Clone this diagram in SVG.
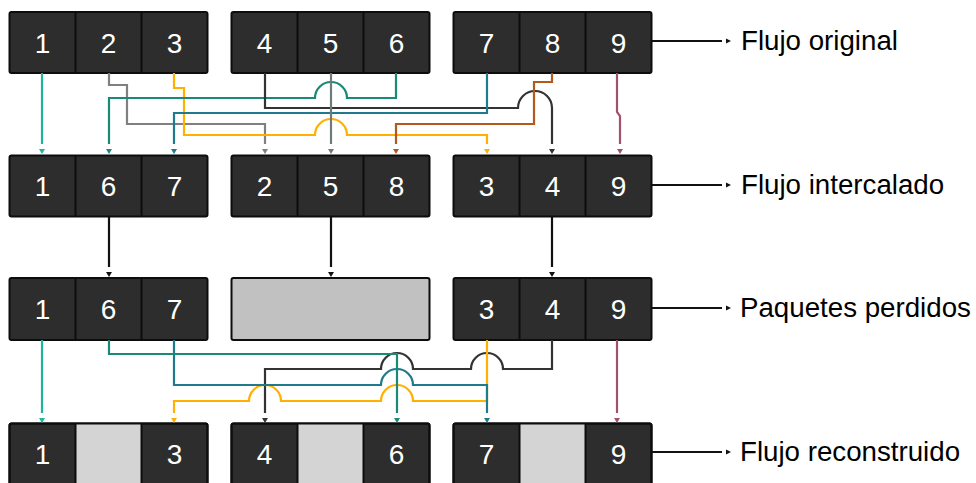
<svg xmlns="http://www.w3.org/2000/svg" width="976" height="483" viewBox="0 0 976 483">
  <style>
    .box{fill:#2d2d2d;stroke:#0d0d0d;stroke-width:2}
    .edge{fill:none;stroke:#0d0d0d;stroke-width:2}
    .div{stroke:#0d0d0d;stroke-width:2}
    .lost{fill:#c1c1c1;stroke:#0d0d0d;stroke-width:2}
    .gap{fill:#d4d4d4}
    .num{font-family:"Liberation Sans",Arial,sans-serif;font-size:28px;fill:#fff;text-anchor:middle}
    .lbl{font-family:"Liberation Sans",Arial,sans-serif;font-size:27.7px;fill:#000}
    .w{fill:none;stroke-width:2.2}
  </style>
  <defs>
    <marker id="a-k" markerUnits="userSpaceOnUse" markerWidth="12" markerHeight="12" orient="auto" overflow="visible"><path d="M5,-3 L10,0 L5,3Z" fill="#111"/></marker>
    <marker id="a-s" markerUnits="userSpaceOnUse" markerWidth="12" markerHeight="12" orient="auto" overflow="visible"><path d="M4,-2.5 L9,0 L4,2.5Z" fill="#111"/></marker>
    <marker id="a-c1" markerUnits="userSpaceOnUse" markerWidth="12" markerHeight="12" orient="auto" overflow="visible"><path d="M5,-3 L10,0 L5,3Z" fill="#1eb59c"/></marker>
    <marker id="a-c2" markerUnits="userSpaceOnUse" markerWidth="12" markerHeight="12" orient="auto" overflow="visible"><path d="M5,-3 L10,0 L5,3Z" fill="#808080"/></marker>
    <marker id="a-c3" markerUnits="userSpaceOnUse" markerWidth="12" markerHeight="12" orient="auto" overflow="visible"><path d="M5,-3 L10,0 L5,3Z" fill="#ffb000"/></marker>
    <marker id="a-c4" markerUnits="userSpaceOnUse" markerWidth="12" markerHeight="12" orient="auto" overflow="visible"><path d="M5,-3 L10,0 L5,3Z" fill="#333"/></marker>
    <marker id="a-c5" markerUnits="userSpaceOnUse" markerWidth="12" markerHeight="12" orient="auto" overflow="visible"><path d="M5,-3 L10,0 L5,3Z" fill="#6f7b7b"/></marker>
    <marker id="a-c6" markerUnits="userSpaceOnUse" markerWidth="12" markerHeight="12" orient="auto" overflow="visible"><path d="M5,-3 L10,0 L5,3Z" fill="#198a77"/></marker>
    <marker id="a-c7" markerUnits="userSpaceOnUse" markerWidth="12" markerHeight="12" orient="auto" overflow="visible"><path d="M5,-3 L10,0 L5,3Z" fill="#1f7a8c"/></marker>
    <marker id="a-c8" markerUnits="userSpaceOnUse" markerWidth="12" markerHeight="12" orient="auto" overflow="visible"><path d="M5,-3 L10,0 L5,3Z" fill="#b4581e"/></marker>
    <marker id="a-c9" markerUnits="userSpaceOnUse" markerWidth="12" markerHeight="12" orient="auto" overflow="visible"><path d="M5,-3 L10,0 L5,3Z" fill="#a1516f"/></marker>
  </defs>

  <!-- Row 1: original stream -->
  <g id="orig-a">
    <rect class="box" x="9.5" y="12" width="198" height="61" rx="2"/>
    <path class="div" d="M75.5,12V73M141.5,12V73"/>
    <text class="num" x="42.5" y="52.5">1</text><text class="num" x="108.5" y="52.5">2</text><text class="num" x="174.5" y="52.5">3</text>
  </g>
  <g id="orig-b">
    <rect class="box" x="231.5" y="12" width="198" height="61" rx="2"/>
    <path class="div" d="M297.5,12V73M363.5,12V73"/>
    <text class="num" x="264.5" y="52.5">4</text><text class="num" x="330.5" y="52.5">5</text><text class="num" x="396.5" y="52.5">6</text>
  </g>
  <g id="orig-c">
    <rect class="box" x="453.5" y="12" width="198" height="61" rx="2"/>
    <path class="div" d="M519.5,12V73M585.5,12V73"/>
    <text class="num" x="486.5" y="52.5">7</text><text class="num" x="552.5" y="52.5">8</text><text class="num" x="618.5" y="52.5">9</text>
  </g>

  <!-- Row 2: interleaved stream -->
  <g id="inter-a">
    <rect class="box" x="9.5" y="155.5" width="198" height="61" rx="2"/>
    <path class="div" d="M75.5,155.5V216.5M141.5,155.5V216.5"/>
    <text class="num" x="42.5" y="196">1</text><text class="num" x="108.5" y="196">6</text><text class="num" x="174.5" y="196">7</text>
  </g>
  <g id="inter-b">
    <rect class="box" x="231.5" y="155.5" width="198" height="61" rx="2"/>
    <path class="div" d="M297.5,155.5V216.5M363.5,155.5V216.5"/>
    <text class="num" x="264.5" y="196">2</text><text class="num" x="330.5" y="196">5</text><text class="num" x="396.5" y="196">8</text>
  </g>
  <g id="inter-c">
    <rect class="box" x="453.5" y="155.5" width="198" height="61" rx="2"/>
    <path class="div" d="M519.5,155.5V216.5M585.5,155.5V216.5"/>
    <text class="num" x="486.5" y="196">3</text><text class="num" x="552.5" y="196">4</text><text class="num" x="618.5" y="196">9</text>
  </g>

  <!-- Row 3: packets after loss -->
  <g id="lost-a">
    <rect class="box" x="9.5" y="278" width="198" height="62" rx="2"/>
    <path class="div" d="M75.5,278V340M141.5,278V340"/>
    <text class="num" x="42.5" y="319">1</text><text class="num" x="108.5" y="319">6</text><text class="num" x="174.5" y="319">7</text>
  </g>
  <g id="lost-b">
    <rect class="lost" x="231.5" y="278" width="198" height="62" rx="2"/>
  </g>
  <g id="lost-c">
    <rect class="box" x="453.5" y="278" width="198" height="62" rx="2"/>
    <path class="div" d="M519.5,278V340M585.5,278V340"/>
    <text class="num" x="486.5" y="319">3</text><text class="num" x="552.5" y="319">4</text><text class="num" x="618.5" y="319">9</text>
  </g>

  <!-- Row 4: rebuilt stream -->
  <g id="rebuilt-a">
    <rect class="box" x="9.5" y="423.5" width="198" height="62" rx="2"/>
    <rect class="gap" x="75.5" y="423.5" width="66" height="62"/>
    <path class="div" d="M75.5,423.5V485M141.5,423.5V485"/>
    <rect class="edge" x="9.5" y="423.5" width="198" height="62" rx="2"/>
    <text class="num" x="42.5" y="464">1</text><text class="num" x="174.5" y="464">3</text>
  </g>
  <g id="rebuilt-b">
    <rect class="box" x="231.5" y="423.5" width="198" height="62" rx="2"/>
    <rect class="gap" x="297.5" y="423.5" width="66" height="62"/>
    <path class="div" d="M297.5,423.5V485M363.5,423.5V485"/>
    <rect class="edge" x="231.5" y="423.5" width="198" height="62" rx="2"/>
    <text class="num" x="264.5" y="464">4</text><text class="num" x="396.5" y="464">6</text>
  </g>
  <g id="rebuilt-c">
    <rect class="box" x="453.5" y="423.5" width="198" height="62" rx="2"/>
    <rect class="gap" x="519.5" y="423.5" width="66" height="62"/>
    <path class="div" d="M519.5,423.5V485M585.5,423.5V485"/>
    <rect class="edge" x="453.5" y="423.5" width="198" height="62" rx="2"/>
    <text class="num" x="486.5" y="464">7</text><text class="num" x="618.5" y="464">9</text>
  </g>

  <!-- Row captions -->
  <g id="cap-orig"><text class="lbl" x="741" y="50">Flujo original</text></g>
  <g id="cap-inter"><text class="lbl" x="741" y="194">Flujo intercalado</text></g>
  <g id="cap-lost"><text class="lbl" x="740" y="317">Paquetes perdidos</text></g>
  <g id="cap-rebuilt"><text class="lbl" x="740" y="461">Flujo reconstruido</text></g>

  <g id="connectors">
    <!-- interleaving: row 1 to row 2 -->
    <path class="w" stroke="#808080" marker-end="url(#a-c2)" d="M109,73V85H127V124H265V144"/>
    <path class="w" stroke="#ffb000" marker-end="url(#a-c3)" d="M174,73V88H184V135H315A16,16 0 0 1 347,135H487V144"/>
    <path class="w" stroke="#198a77" marker-end="url(#a-c6)" d="M396,73V98H347A16,16 0 0 0 315,98H109V144"/>
    <path class="w" stroke="#333" marker-end="url(#a-c4)" d="M265,73V108H518A17,17 0 0 1 552,108V144"/>
    <path class="w" stroke="#1f7a8c" marker-end="url(#a-c7)" d="M487,73V113H174V144"/>
    <path class="w" stroke="#b4581e" marker-end="url(#a-c8)" d="M552,73V82H534V124H396V144"/>
    <path class="w" stroke="#6f7b7b" marker-end="url(#a-c5)" d="M331,73V144"/>
    <path class="w" stroke="#1eb59c" marker-end="url(#a-c1)" d="M42,73V144"/>
    <path class="w" stroke="#a1516f" marker-end="url(#a-c9)" d="M617,73V112L620,116V144"/>

    <!-- transmission: row 2 to row 3 -->
    <path class="w" stroke="#111" marker-end="url(#a-k)" d="M109,217V267"/>
    <path class="w" stroke="#111" marker-end="url(#a-k)" d="M331,217V267"/>
    <path class="w" stroke="#111" marker-end="url(#a-k)" d="M552,217V267"/>

    <!-- de-interleaving: row 3 to row 4 -->
    <path class="w" stroke="#1eb59c" marker-end="url(#a-c1)" d="M42,340V413"/>
    <path class="w" stroke="#333" marker-end="url(#a-c4)" d="M552,340V369H503A16,16 0 0 0 471,369H413A16,16 0 0 0 381,369H265V413"/>
    <path class="w" stroke="#ffb000" marker-end="url(#a-c3)" d="M487,340V401H413A16,16 0 0 0 381,401H281A16,16 0 0 0 249,401H174V413"/>
    <path class="w" stroke="#1f7a8c" marker-end="url(#a-c7)" d="M174,340V385H381A16,16 0 0 1 413,385H487V413"/>
    <path class="w" stroke="#198a77" marker-end="url(#a-c6)" d="M109,340V354H397V413"/>
    <path class="w" stroke="#a1516f" marker-end="url(#a-c9)" d="M617,340V413"/>

    <!-- caption pointers -->
    <path class="w" stroke="#111" marker-end="url(#a-s)" d="M652,41H722"/>
    <path class="w" stroke="#111" marker-end="url(#a-s)" d="M652,185H722"/>
    <path class="w" stroke="#111" marker-end="url(#a-s)" d="M652,308H722"/>
    <path class="w" stroke="#111" marker-end="url(#a-s)" d="M652,452H722"/>
  </g>
</svg>
